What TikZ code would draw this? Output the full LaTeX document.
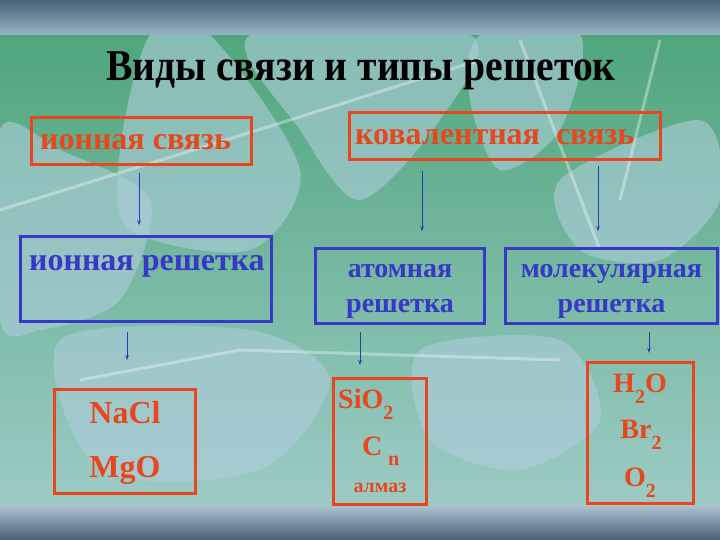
\documentclass[tikz,border=0pt]{standalone}
\usepackage{fontspec}
\setmainfont{Liberation Serif}
\usetikzlibrary{arrows.meta}

\definecolor{bondred}{HTML}{E8461E}
\definecolor{latblue}{HTML}{3838C8}
\definecolor{arrblue}{HTML}{1F3FB5}
\definecolor{leafgreen}{HTML}{4FA67C}
\definecolor{paleteal}{HTML}{9DCBC6}
\definecolor{leafblue}{HTML}{AECDDB}
\definecolor{bardark}{HTML}{4A6176}
\definecolor{barlight}{HTML}{97B4C4}

\newcommand\fs[1]{\fontsize{#1}{#1}\selectfont}
\newcommand\chemsub[1]{\raisebox{-.4em}{\fs{20}#1}}

\tikzset{
  bondbox/.style={draw=bondred, line width=3pt, inner sep=0pt},
  latbox/.style={draw=latblue, line width=2.5pt, inner sep=0pt},
  redtxt/.style={text=bondred, font=\bfseries, inner sep=0pt, anchor=base},
  bluetxt/.style={text=latblue, font=\bfseries, inner sep=0pt, anchor=base},
  down/.style={draw=arrblue, line width=1pt, -{Stealth[length=5pt,width=3.5pt]}},
  leaf/.style={fill=leafblue, opacity=.6},
  vein/.style={draw=white, opacity=.35, line width=3pt}
}

\begin{document}
\begin{tikzpicture}[x=1pt,y=-1pt]
   \useasboundingbox (0,0) rectangle (720,540);

   % background
   \shade[top color=leafgreen, bottom color=paleteal] (0,35) rectangle (720,505);
   \fill[leaf] plot[smooth cycle] coordinates {(0,130) (60,150) (150,200) (120,300) (40,330) (0,320)};
   \fill[leaf] plot[smooth cycle] coordinates {(150,35) (210,35) (300,170) (250,250) (130,230) (120,150)};
   \fill[leaf] plot[smooth cycle] coordinates {(250,35) (470,35) (440,120) (360,200) (300,130)};
   \fill[leaf] plot[smooth cycle] coordinates {(480,35) (580,35) (560,130) (500,170) (470,100)};
   \fill[leaf] plot[smooth cycle] coordinates {(560,180) (700,120) (720,200) (660,260) (580,250)};
   \fill[leaf] plot[smooth cycle] coordinates {(60,340) (250,330) (330,380) (260,470) (100,470)};
   \fill[leaf] plot[smooth cycle] coordinates {(420,350) (560,340) (600,420) (520,470) (430,440)};
   \draw[vein] (0,210) -- (290,120) -- (480,60);
   \draw[vein] (80,380) -- (240,350) -- (560,360);
   \draw[vein] (520,40) -- (600,250);
   \draw[vein] (660,40) -- (620,200);

   % bars
   \shade[top color=bardark, bottom color=barlight] (0,0) rectangle (720,35);
   \shade[top color=barlight!80!white, bottom color=bardark] (0,505) rectangle (720,540);

   % title
   \node[bluetxt, text=black, anchor=base, xscale=.9] (title) at (361,81) {\fs{44}Виды связи и типы решеток};

   % boxes
   \node[bondbox, minimum width=220pt, minimum height=47pt] (ionbond) at (141.5,141) {};
   \node[bondbox, minimum width=311pt, minimum height=47pt] (covbond) at (505,136) {};
   \node[latbox, minimum width=251pt, minimum height=85pt] (ionlat) at (146,279) {};
   \node[latbox, minimum width=169pt, minimum height=75pt] (atomlat) at (400,286) {};
   \node[latbox, minimum width=212pt, minimum height=75pt] (mollat) at (611.5,286) {};
   \node[bondbox, minimum width=141pt, minimum height=104pt] (ionex) at (125,441.5) {};
   \node[bondbox, minimum width=93pt, minimum height=126pt] (atomex) at (380,441.5) {};
   \node[bondbox, minimum width=106pt, minimum height=141pt] (molex) at (640.5,433) {};

   % texts
   \node[redtxt, anchor=base west] (t1) at (40,150) {\fs{32}ионная связь};
   \node[redtxt, anchor=base west] (t2) at (355,145) {\fs{32}ковалентная\ \ связь};
   \node[bluetxt, anchor=base west] (t3) at (29,270) {\fs{32}ионная решетка};
   \node[bluetxt] (t4) at (400,277) {\fs{28}атомная};
   \node[bluetxt] (t5) at (400,312) {\fs{28}решетка};
   \node[bluetxt] (t6) at (611.5,277) {\fs{28}молекулярная};
   \node[bluetxt] (t7) at (611.5,312) {\fs{28}решетка};

   \node[redtxt] (nacl) at (125,423) {\fs{32}NaCl};
   \node[redtxt] (mgo) at (125,477) {\fs{32}MgO};
   \node[redtxt, anchor=base west] (sio) at (338,408) {\fs{28}SiO\chemsub{2}};
   \node[redtxt, anchor=base west] (cn) at (362,455) {\fs{28}C};
   \node[redtxt, anchor=base west] (n) at (388,465) {\fs{20}n};
   \node[redtxt] (almaz) at (380,492) {\fs{20}алмаз};
   \node[redtxt] (water) at (640,392) {\fs{28}H\chemsub{2}O};
   \node[redtxt] (brom) at (641,438) {\fs{28}Br\chemsub{2}};
   \node[redtxt] (oxy) at (640,486) {\fs{28}O\chemsub{2}};

   % arrows
   \draw[down, shorten <=7pt, shorten >=10pt] ([xshift=-2.5pt]ionbond.south) -- ([xshift=-7pt]ionlat.north);
   \draw[down, shorten <=10pt, shorten >=16pt] ([xshift=-83pt]covbond.south) -- ([xshift=22pt]atomlat.north);
   \draw[down, shorten <=5pt, shorten >=16pt] ([xshift=93pt]covbond.south) -- ([xshift=-13.5pt]mollat.north);
   \draw[down, shorten <=9pt, shorten >=28pt] ([xshift=-19pt]ionlat.south) -- ([xshift=2pt]ionex.north);
   \draw[down, shorten <=7pt, shorten >=12pt] ([xshift=-40pt]atomlat.south) -- ([xshift=-20pt]atomex.north);
   \draw[down, shorten <=7pt, shorten >=8pt] ([xshift=37.5pt]mollat.south) -- ([xshift=8.5pt]molex.north);

\end{tikzpicture}
\end{document}
